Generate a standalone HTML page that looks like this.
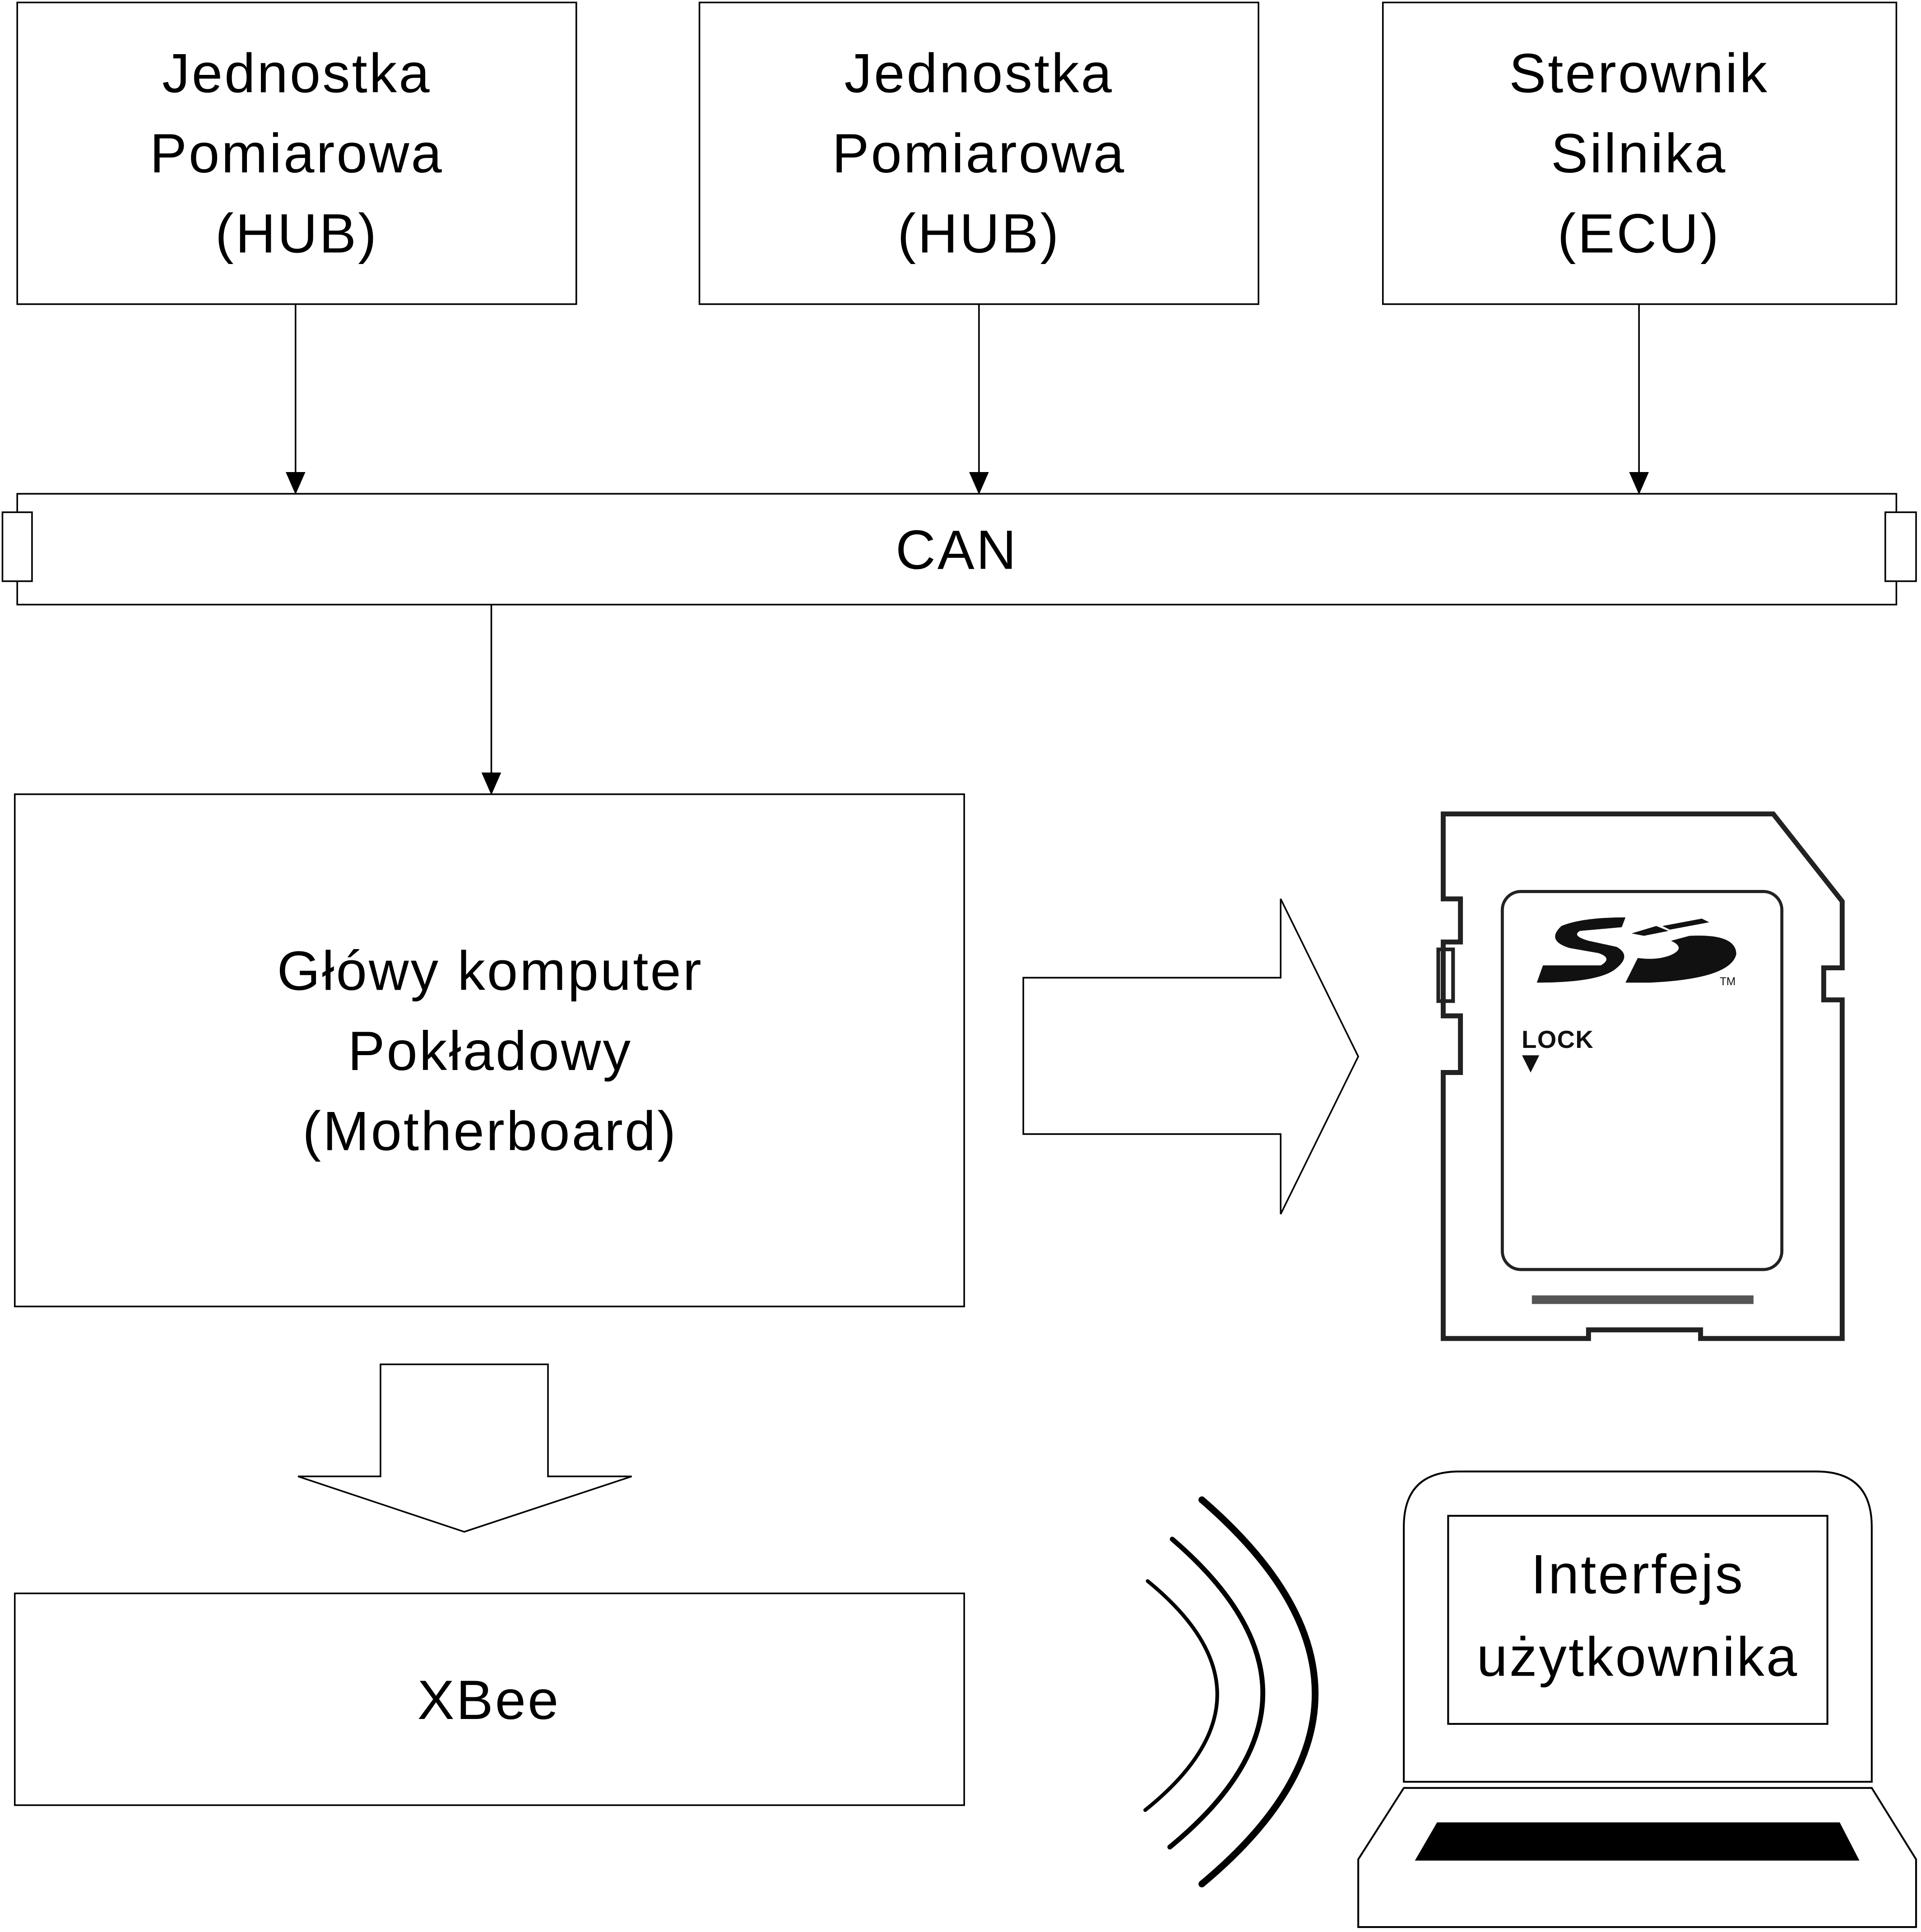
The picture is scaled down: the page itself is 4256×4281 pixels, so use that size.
<!DOCTYPE html>
<html><head><meta charset="utf-8"><style>html,body{margin:0;padding:0;background:#fff}svg{display:block}</style></head><body>
<svg width="4256" height="4281" viewBox="0 0 1560 1569" preserveAspectRatio="none" xmlns="http://www.w3.org/2000/svg" font-family="'Liberation Sans', sans-serif" font-size="45" letter-spacing="1.5" text-anchor="middle">
<g fill="#fff" stroke="#000" stroke-width="1.3">
<rect x="14" y="2" width="454" height="245"/>
<rect x="568" y="2" width="454" height="245"/>
<rect x="1123" y="2" width="417" height="245"/>
<rect x="14" y="401" width="1526" height="90"/>
<rect x="2" y="416" width="24" height="56"/>
<rect x="1531" y="416" width="25" height="56"/>
<rect x="12" y="645" width="771" height="416"/>
<rect x="12" y="1294" width="771" height="172"/>
<polygon points="831,794 1040,794 1040,730 1103,858 1040,986 1040,921 831,921"/>
<polygon points="309,1108 445,1108 445,1199 513,1199 377,1244 242,1199 309,1199"/>
</g>
<g stroke="#000" stroke-width="1.3">
<line x1="240" y1="247" x2="240" y2="386"/><polygon points="233,384 247,384 240,400"/>
<line x1="795" y1="247" x2="795" y2="386"/><polygon points="788,384 802,384 795,400"/>
<line x1="1331" y1="247" x2="1331" y2="386"/><polygon points="1324,384 1338,384 1331,400"/>
<line x1="399" y1="491" x2="399" y2="630"/><polygon points="392,628 406,628 399,644"/>
</g>
<g fill="#000">
<text x="241" y="75">Jednostka</text><text x="241" y="140">Pomiarowa</text><text x="241" y="205">(HUB)</text>
<text x="795" y="75">Jednostka</text><text x="795" y="140">Pomiarowa</text><text x="795" y="205">(HUB)</text>
<text x="1331" y="75">Sterownik</text><text x="1331" y="140">Silnika</text><text x="1331" y="205">(ECU)</text>
<text x="777" y="462">CAN</text>
<text x="398" y="804">Główy komputer</text><text x="398" y="869">Pokładowy</text><text x="398" y="934">(Motherboard)</text>
<text x="397" y="1396">XBee</text>
<text x="1330" y="1294">Interfejs</text><text x="1330" y="1361">użytkownika</text>
</g>
<g fill="none" stroke="#000" stroke-linecap="round">
<path d="M932,1284 Q1046,1377 930,1470" stroke-width="3"/>
<path d="M952,1250 Q1100,1377 950,1500" stroke-width="4"/>
<path d="M976,1218 Q1160,1377 976,1530" stroke-width="5.5"/>
</g>
<g fill="none" stroke="#000" stroke-width="1.5">
<path d="M1140,1447 L1140,1240 Q1140,1195 1185,1195 L1475,1195 Q1520,1195 1520,1240 L1520,1447 Z"/>
<rect x="1176" y="1231" width="308" height="169"/>
<path d="M1140,1452 L1520,1452 L1556,1510 L1556,1565 L1103,1565 L1103,1510 Z"/>
</g>
<polygon points="1167,1480 1494,1480 1510,1511 1149,1511" fill="#000"/>
<g fill="none" stroke="#222" stroke-width="4">
<path d="M1172,661 L1440,661 L1496,732 L1496,786 L1481,786 L1481,812 L1496,812 L1496,1087 L1381,1087 L1381,1080 L1290,1080 L1290,1087 L1172,1087 L1172,871 L1186,871 L1186,825 L1172,825 L1172,765 L1186,765 L1186,730 L1172,730 Z"/>
<rect x="1168" y="771" width="12" height="42" stroke-width="3"/>
<rect x="1220" y="724" width="227" height="307" rx="15" stroke-width="2.5"/>
</g>
<rect x="1244" y="1052" width="180" height="7" fill="#555"/>
<path d="M1248,798 L1253,784 L1300,784 Q1310,778 1298,774 L1275,770 Q1255,764 1268,752 Q1285,745 1320,745 L1317,753 L1283,756 Q1276,760 1290,764 L1313,769 Q1325,776 1313,786 Q1300,798 1248,798 Z" fill="#111"/>
<path d="M1320,798 L1330,778 Q1345,780 1356,776 Q1370,770 1357,764 L1372,760 Q1410,758 1410,775 Q1405,795 1340,798 Z" fill="#111"/>
<path d="M1325,758 L1345,752 L1355,756 L1335,760 Z M1350,752 L1382,746 L1388,749 L1356,755 Z" fill="#111"/>
<text x="1403" y="800" font-size="9" letter-spacing="0" fill="#111">TM</text>
<text x="1265" y="851" font-size="20" letter-spacing="0.5" font-weight="bold" fill="#111">LOCK</text>
<polygon points="1236,857 1250,857 1243,871" fill="#111"/>
</svg>
</body></html>
